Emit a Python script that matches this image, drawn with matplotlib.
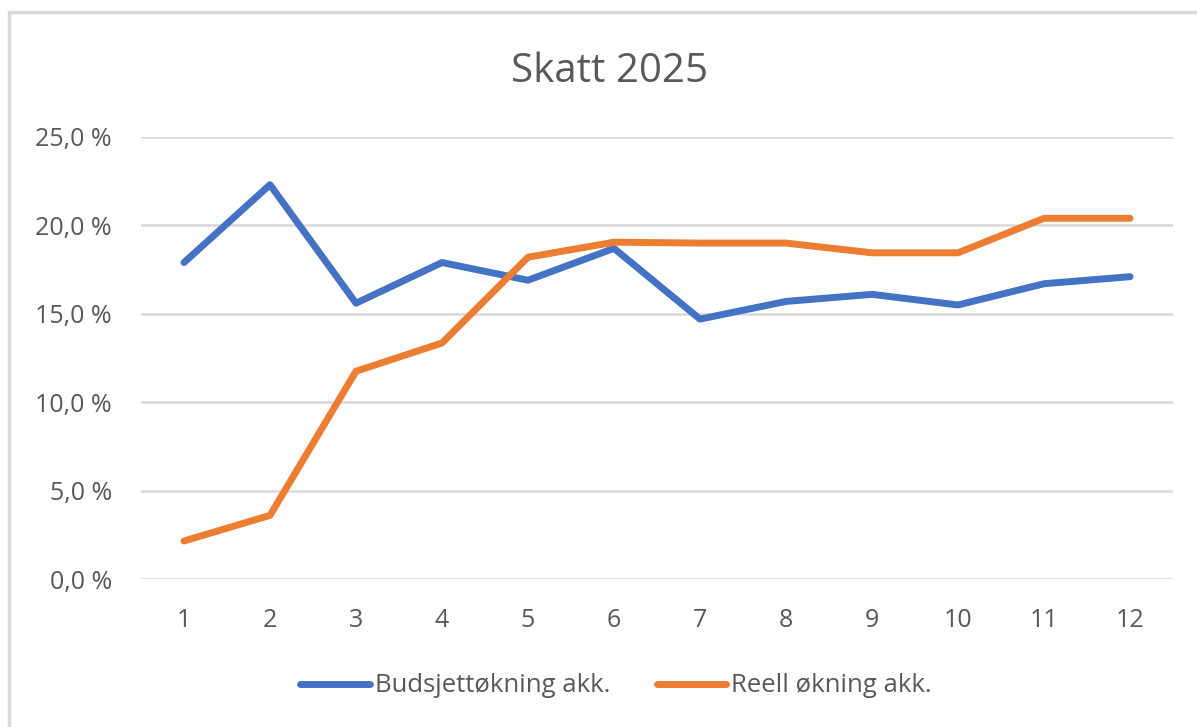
import matplotlib.pyplot as plt
from matplotlib.patches import Rectangle
from matplotlib.ticker import FuncFormatter

# data
months = [1, 2, 3, 4, 5, 6, 7, 8, 9, 10, 11, 12]
budsjett = [17.9, 22.3, 15.6, 17.9, 16.9, 18.7, 14.7, 15.7, 16.1, 15.5, 16.7, 17.1]
reell = [2.15, 3.6, 11.75, 13.35, 18.2, 19.05, 19.0, 19.0, 18.45, 18.45, 20.4, 20.4]

plt.rcParams['font.family'] = ['Open Sans', 'DejaVu Sans']
grey = "#595959"

fig = plt.figure(figsize=(11.97, 7.27), dpi=100)
ax = fig.add_axes([141/1197, 1 - 579/727, (1173 - 141)/1197, (579 - 137)/727])

ax.plot(months, budsjett, color="#4472C4", lw=5, solid_capstyle="round",
        solid_joinstyle="round", label="Budsjettøkning akk.")
ax.plot(months, reell, color="#ED7D31", lw=5, solid_capstyle="round",
        solid_joinstyle="round", label="Reell økning akk.")

ax.set_xlim(0.5, 12.5)
ax.set_ylim(0, 25)
ax.set_xticks(months)
ax.set_yticks([0, 5, 10, 15, 20, 25])
ax.yaxis.set_major_formatter(FuncFormatter(lambda v, p: f"{v:.1f}".replace(".", ",") + " %"))
ax.tick_params(length=0, labelsize=18, colors=grey)
ax.tick_params(axis="y", pad=21)
ax.tick_params(axis="x", pad=21)
ax.grid(axis="y", color="#D9D9D9", lw=1.8)
ax.set_axisbelow(True)
for s in ax.spines.values():
    s.set_visible(False)

fig.text(610/1197, 1 - 72/727, "Skatt 2025", ha="center", va="center",
         fontsize=29, color=grey)

fig.legend(loc="center", bbox_to_anchor=(616/1197, 1 - 686/727), ncol=2,
           frameon=False, fontsize=18.5, labelcolor=grey, handlelength=2.7,
           handletextpad=0.2, columnspacing=1.8)

fig.patches.append(Rectangle((9/1197, -0.1), 1.2, 1 - 12/727 + 0.1,
                             transform=fig.transFigure, fill=False,
                             edgecolor="#D9D9D9", lw=2.5))

fig.savefig("out.png", dpi=100)
